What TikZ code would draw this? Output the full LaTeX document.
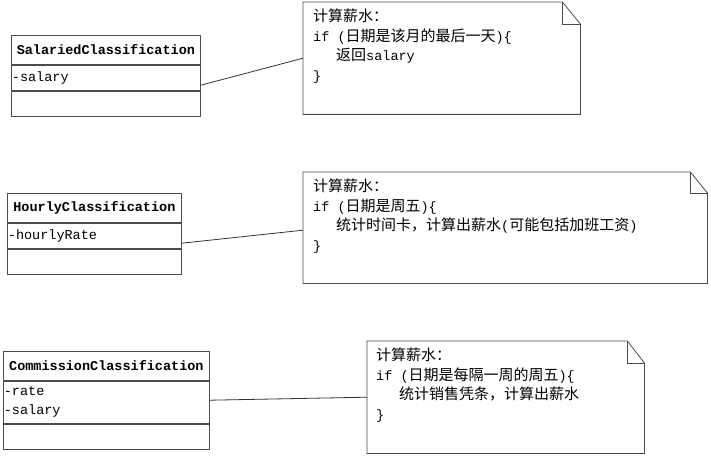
\documentclass[tikz,border=0pt]{standalone}
\usepackage{fontspec}
\setmonofont{Liberation Mono}
\newfontfamily\cjkfont{Noto Sans CJK SC}
\usepackage{tikz}
\usetikzlibrary{positioning}

\newcommand{\zh}[1]{{\cjkfont\fontsize{15}{19.5}\selectfont #1}}

\tikzset{
    classhead/.style={draw=black!70, line width=0.8pt, font=\ttfamily\bfseries\fontsize{13.5}{19.5}\selectfont,
        minimum width=#1, minimum height=29, inner sep=0pt},
    classpart/.style={draw=black!70, line width=0.8pt, font=\ttfamily\fontsize{13.5}{19}\selectfont,
        text width=#1, align=left, inner xsep=0.5pt, inner ysep=3pt, minimum height=25},
    notebox/.style={minimum width=#1, minimum height=112, inner sep=0pt},
    noteline/.style={draw=black!70, line width=0.8pt},
    notetext/.style={font=\ttfamily\fontsize{13.5}{19.5}\selectfont, align=left, inner sep=0pt},
    link/.style={draw=black!80, line width=0.8pt}
}

\begin{document}
\begin{tikzpicture}[x=1pt, y=-1pt]
    \useasboundingbox (0,0) rectangle (711,457);
    % SalariedClassification
    \node[classhead=189, anchor=north west] (salHead) at (11,35) {SalariedClassification};
    \node[classpart=188pt, below=0pt of salHead] (salAttr) {-salary};
    \node[classpart=188pt, below=0pt of salAttr] (salOps) {};
    % HourlyClassification
    \node[classhead=174, anchor=north west] (hourHead) at (7,193) {HourlyClassification};
    \node[classpart=173pt, below=0pt of hourHead] (hourAttr) {-hourlyRate};
    \node[classpart=173pt, below=0pt of hourAttr] (hourOps) {};
    % CommissionClassification
    \node[classhead=206, anchor=north west] (comHead) at (3,351) {CommissionClassification};
    \node[classpart=205pt, below=0pt of comHead, minimum height=42] (comAttr) {-rate\\-salary};
    \node[classpart=205pt, below=0pt of comAttr] (comOps) {};

    % Notizen
    \node[notebox=277, anchor=north west] (salNote) at (303,2) {};
    \node[notebox=404, anchor=north west, minimum height=111] (hourNote) at (303,172) {};
    \node[notebox=277, anchor=north west] (comNote) at (367,341) {};
    \foreach \n/\dx/\dy in {salNote/18/22, hourNote/17/21, comNote/17/22}{
        \draw[noteline] (\n.north west) -- ([xshift=-\dx]\n.north east) -- ([yshift=-\dy]\n.north east)
            -- (\n.south east) -- (\n.south west) -- cycle;
        \draw[noteline] ([xshift=-\dx]\n.north east) |- ([yshift=-\dy]\n.north east);
    }
    \node[notetext, below right=7pt and 10pt of salNote.north west] (salText)
        {\zh{计算薪水：}\\ if (\zh{日期是该月的最后一天})\{\\ \hspace*{23pt}\zh{返回}salary\\ \}};
    \node[notetext, below right=7pt and 10pt of hourNote.north west] (hourText)
        {\zh{计算薪水：}\\ if (\zh{日期是周五})\{\\ \hspace*{23pt}\zh{统计时间卡，计算出薪水}(\zh{可能包括加班工资})\\ \}};
    \node[notetext, below right=7pt and 9pt of comNote.north west] (comText)
        {\zh{计算薪水：}\\ if (\zh{日期是每隔一周的周五})\{\\ \hspace*{23pt}\zh{统计销售凭条，计算出薪水}\\ \}};

    % Verbindungen
    \draw[link] ([yshift=-7.5pt]salAttr.east) -- (salNote.west);
    \draw[link] ([yshift=-7.5pt]hourAttr.east) -- ([yshift=-2.5pt]hourNote.west);
    \draw[link] ([yshift=2pt]comAttr.east) -- (comNote.west);
\end{tikzpicture}
\end{document}
